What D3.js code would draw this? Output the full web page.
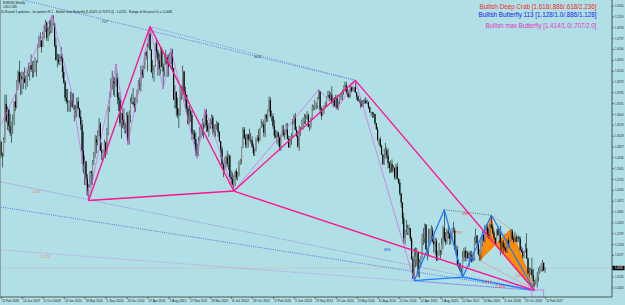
<!DOCTYPE html>
<html>
<head>
<meta charset="utf-8">
<script src="https://cdn.jsdelivr.net/npm/d3@7"></script>
<style>
body { margin: 0; background: #b0e0e6; }
svg { display: block; font-family: "Liberation Sans", Arial, sans-serif; }
</style>
</head>
<body>
<svg id="chart" width="625" height="305"></svg>
<script>
// EURUSD weekly, prices in 1/10000 (pips), week 0 = 22 Feb 2009
const firstOpen = 12910;
const weekHigh = [
  // 2009
  12930,12720,12990,13740,13740,13530,13500,13400,13270,13390,
  13620,13750,14000,14170,14340,14130,14150,14140,14220,14080,
  14180,14300,14260,14450,14330,14340,14400,14350,14630,14780,
  14840,14700,14850,14970,15060,15030,14940,15050,15060,15144,
  15140,14990,14750,14460,14460,
  // 2010
  14450,14580,14450,14240,14000,13840,13840,13640,13790,13790,
  13740,13560,13560,13690,13700,13510,13470,13290,13090,12670,
  12530,12340,12160,12390,12400,12590,12730,13030,13020,13110,
  13330,13260,12900,12780,12950,12910,13160,13530,13790,14030,
  14160,14070,14050,14280,14120,13780,13780,13420,13500,13500,
  13250,13430,
  // 2011
  13440,13460,13690,13760,13860,13690,13700,13830,14000,14040,
  14250,14250,14250,14490,14520,14650,14880,14940,14540,14350,
  14260,14650,14700,14540,14460,14580,14580,14290,14450,14530,
  14450,14450,14480,14550,14550,14210,13910,13800,13690,13500,
  13870,13900,14250,14160,13880,13740,13550,13550,13490,13450,
  13120,13120,
  // 2012
  13080,12880,13000,13170,13230,13320,13250,13490,13480,13290,
  13240,13320,13390,13380,13210,13220,13280,13260,13100,12920,
  12830,12540,12620,12670,12750,12690,12690,12400,12370,12320,
  12400,12440,12380,12580,12610,12820,13170,13170,13040,13050,
  13040,13140,13070,13010,12880,12790,12990,13030,13130,13150,
  13310,13260,13300,
  // 2013
  13400,13400,13480,13710,13690,13460,13410,13300,13120,13110,
  13050,13020,13040,13200,13210,13130,13240,13240,13020,13010,
  13060,13310,13390,13420,13180,13090,13200,13170,13300,13340,
  13400,13390,13450,13410,13220,13340,13570,13550,13650,13600,
  13700,13830,13810,13530,13500,13550,13620,13710,13810,13810,
  13780,13890,
  // 2014
  13680,13700,13740,13740,13620,13720,13770,13830,13910,13970,
  13970,13870,13820,13900,13900,13880,13880,13993,13780,13730,
  13660,13680,13620,13650,13670,13700,13650,13620,13530,13440,
  13440,13430,13400,13240,13170,12950,13000,12860,12690,12790,
  12890,12810,12790,12560,12580,12600,12500,12460,12520,12540,
  12260,12250,
  // 2015
  12010,11840,11660,11360,11530,11450,11450,11390,11240,10890,
  11040,11050,11040,10970,10840,10890,11290,11390,11470,11460,
  11030,11380,11380,11440,11410,11280,11220,11210,10990,11130,
  11010,11210,11430,11714,11320,11370,11460,11300,11290,11390,
  11500,11400,11090,11070,10830,10770,10690,10980,11040,11060,
  10990,10990,
  // 2016
  10970,10990,10990,10960,11240,11380,11260,11150,11020,11220,
  11340,11280,11440,11460,11460,11380,11460,11616,11450,11350,
  11220,11370,11420,11340,11430,11160,11180,11120,11060,11190,
  11230,11170,11370,11370,11240,11330,11280,11250,11260,11240,
  11060,11030,10990,11120,11300,10870,10690,10690,10870,10670,
  10480,10470,
  // 2017
  10620,10690,10720,10770,10830,10780,10700
];
const weekLow = [
  // 2009
  12620,12457,12650,12890,13250,13115,13100,13010,12890,13050,
  13200,13450,13500,13820,13930,13730,13750,13840,13950,13830,
  13880,14060,13990,14140,14040,14050,14130,14060,14300,14560,
  14580,14480,14580,14730,14850,14690,14680,14780,14820,14830,
  14960,14580,14340,14220,14270,
  // 2010
  14260,14320,14030,13930,13620,13580,13440,13440,13440,13520,
  13500,13270,13330,13340,13480,13320,13120,12520,12350,12150,
  12140,11960,11876,12100,12150,12150,12500,12630,12710,12840,
  13010,12750,12590,12580,12650,12620,12680,13030,13440,13690,
  13830,13730,13700,13880,13570,13450,13180,12970,13150,13140,
  13050,13070,
  // 2011
  12860,12860,13250,13580,13560,13430,13440,13590,13770,13820,
  13790,14030,14040,14190,14360,14150,14570,14520,14120,14030,
  13970,14240,14400,14070,14080,14100,14220,13840,14070,14270,
  14050,14060,14260,14280,14160,13650,13500,13360,13330,13150,
  13370,13650,13720,13620,13480,13420,13210,13220,13260,12950,
  12950,12860,
  // 2012
  12660,12620,12660,12900,12980,13020,12970,13150,13080,13080,
  13000,13140,13210,13040,12990,13000,13120,13000,12900,12640,
  12500,12290,12340,12440,12470,12410,12280,12160,12140,12042,
  12130,12240,12230,12300,12500,12520,12800,12960,12800,12800,
  12810,12920,12880,12800,12660,12660,12740,12920,12880,12920,
  13150,13170,13000,
  // 2013
  12990,13260,13260,13440,13340,13270,13140,12970,12970,12880,
  12840,12750,12750,13030,13000,12950,13080,12950,12800,12800,
  12860,13000,13230,13110,12990,12800,12750,13020,13130,13130,
  13220,13220,13300,13170,13100,13140,13300,13460,13470,13480,
  13500,13660,13410,13300,13360,13400,13520,13530,13690,13630,
  13640,13590,
  // 2014
  13520,13530,13510,13480,13470,13580,13640,13640,13740,13840,
  13750,13700,13670,13690,13780,13800,13790,13770,13650,13620,
  13590,13500,13520,13520,13580,13580,13570,13490,13420,13360,
  13330,13330,13200,13130,12920,12860,12810,12680,12500,12500,
  12620,12610,12440,12360,12360,12360,12390,12250,12240,12240,
  12160,11960,
  // 2015
  11750,11460,11120,11100,11270,11270,11260,11160,10840,10490,
  10462,10700,10720,10520,10520,10700,10850,11090,11130,11010,
  10820,10890,11120,11160,11130,10960,10920,10810,10810,10900,
  10850,10920,11020,11150,11090,11110,11210,11100,11100,11180,
  11310,11000,10900,10710,10680,10620,10560,10524,10800,10800,
  10850,10850,
  // 2016
  10710,10800,10780,10810,10820,11100,11070,10890,10820,10820,
  11060,11140,11140,11330,11230,11200,11220,11380,11290,11180,
  11100,11100,11260,11130,10910,10990,10950,11000,10950,10950,
  11050,11050,11160,11180,11120,11150,11150,11140,11140,10990,
  10950,10850,10860,10960,10850,10570,10520,10570,10500,10360,
  10350,10390,
  // 2017
  10340,10450,10580,10620,10620,10640,10600
];
const weekClose = [
  // 2009
  12670,12660,12950,13580,13280,13480,13190,13060,13260,13280,
  13620,13520,13990,14140,13960,14060,14010,14020,13950,13970,
  14110,14200,14260,14180,14190,14320,14330,14340,14580,14710,
  14690,14580,14780,14950,15010,14740,14860,14880,14930,15000,
  15000,14610,14350,14360,14320,
  // 2010
  14410,14380,14140,13960,13680,13630,13610,13630,13640,13760,
  13530,13470,13480,13620,13500,13350,13210,12750,12390,12570,
  12260,11970,12110,12390,12360,12560,12640,12950,12900,13050,
  13220,12750,12720,12750,12900,12710,13050,13490,13790,13970,
  13970,13950,13940,14030,13690,13650,13240,13410,13300,13200,
  13070,13380,
  // 2011
  12910,13380,13610,13610,13580,13510,13700,13750,13980,13900,
  14180,14090,14230,14490,14430,14580,14810,14530,14140,14150,
  14260,14640,14500,14340,14190,14530,14230,14150,14400,14400,
  14290,14240,14390,14500,14210,13650,13790,13500,13390,13380,
  13880,13890,14150,13800,13740,13500,13230,13450,13380,13040,
  13060,12960,
  // 2012
  12720,12680,12940,13130,13150,13200,13180,13450,13200,13110,
  13240,13270,13340,13090,13080,13200,13240,13080,12920,12780,
  12510,12420,12640,12640,12520,12660,12290,12250,12160,12300,
  12390,12290,12340,12510,12580,12810,13130,12970,12860,13040,
  12950,12950,12940,12830,12710,12750,12970,12990,12930,13160,
  13180,13220,13070,
  // 2013
  13380,13320,13460,13640,13360,13360,13190,13020,13000,13080,
  12990,12820,13000,13110,13040,13030,13120,12960,12820,12940,
  12990,13210,13350,13120,13010,12830,13070,13140,13280,13280,
  13340,13330,13380,13170,13180,13300,13520,13520,13550,13550,
  13690,13800,13480,13370,13500,13560,13590,13700,13740,13680,
  13740,13590,
  // 2014
  13670,13540,13680,13490,13630,13700,13740,13810,13910,13910,
  13790,13750,13700,13880,13810,13830,13870,13780,13710,13630,
  13630,13640,13540,13610,13640,13590,13610,13520,13430,13430,
  13410,13400,13240,13130,12950,12960,12830,12680,12520,12630,
  12760,12670,12530,12450,12520,12390,12450,12290,12470,12260,
  12190,12000,
  // 2015
  11840,11560,11210,11290,11320,11390,11380,11200,10840,10500,
  10820,10890,10970,10600,10800,10870,11200,11200,11450,11010,
  10990,11120,11260,11350,11160,11100,11160,10830,10980,10980,
  10970,11100,11390,11190,11150,11330,11300,11200,11210,11350,
  11350,11010,11000,10740,10770,10650,10590,10880,10990,10870,
  10960,10860,
  // 2016
  10920,10910,10800,10830,11160,11260,11130,10930,11000,11150,
  11270,11170,11390,11400,11280,11230,11450,11400,11310,11220,
  11110,11370,11260,11280,11120,11140,11050,11040,10980,11170,
  11090,11160,11330,11200,11150,11230,11150,11230,11200,11000,
  10970,10890,10980,11030,10850,10590,10590,10660,10560,10450,
  10450,10520,
  // 2017
  10530,10640,10700,10700,10780,10640,10685
];
const bidPrice = 1.0685;

const xTickLabels = ["22 Feb 2009","14 Jun 2009","4 Oct 2009","24 Jan 2010","16 May 2010","5 Sep 2010",
  "26 Dec 2010","17 Apr 2011","7 Aug 2011","27 Nov 2011","18 Mar 2012","8 Jul 2012","28 Oct 2012",
  "17 Feb 2013","9 Jun 2013","29 Sep 2013","19 Jan 2014","11 May 2014","31 Aug 2014","21 Dec 2014",
  "12 Apr 2015","2 Aug 2015","22 Nov 2015","13 Mar 2016","3 Jul 2016","23 Oct 2016","12 Feb 2017"];
const yTickValues = [1.5310,1.5119,1.4928,1.4737,1.4546,1.4355,1.4164,1.3973,1.3782,1.3591,1.3400,
  1.3209,1.3018,1.2827,1.2636,1.2445,1.2254,1.2063,1.1872,1.1681,1.1490,1.1299,1.1108,1.0917,
  1.0726,1.0535,1.0344];

// pattern points [week index, price]: X, A, B, C, D
const maxButterfly = [[67,1.1876],[114,1.4940],[178,1.2042],[271,1.3993],[408,1.0290]];
const butterfly113 = [[316,1.0462],[339,1.1714],[353,1.0524],[375,1.1616],[408,1.0290]];
const deepCrab = [[366,1.0820],[375,1.1616],[378,1.1100],[390,1.1370],[408,1.0300]];
const zigzag = [[0,1.3210],[39,1.5144],[54,1.3790],[67,1.1876],[88,1.4280],[97,1.2860],
  [114,1.4940],[124,1.3840],[130,1.4550],[150,1.2620],[156,1.3490],[178,1.2042],
  [243,1.3830],[257,1.3480],[271,1.3993],[316,1.0462]];

// dotted helper lines
const dottedLines = [
  {pts: [[17,1.5408],[271,1.3993]], color: "#4a5fd0"},
  {pts: [[114,1.4940],[271,1.3993]], color: "#8a6ad8"},
  {pts: [[0,1.2202],[408,1.0290]], color: "#a070d8"},
  {pts: [[0,1.1761],[408,1.0290]], color: "#3a5ae0"},
  {pts: [[0,1.1004],[408,1.0290]], color: "#c080e0"},
  {pts: [[339,1.1714],[375,1.1616]], color: "#505060"},
  {pts: [[316,1.0462],[408,1.0290]], color: "#3a5ae0"},
  {pts: [[366,1.0820],[408,1.0300]], color: "#ff5050"},
  {pts: [[375,1.1616],[390,1.1370]], color: "#ff5050"},
  {pts: [[366,1.0820],[378,1.1100]], color: "#ff5050"}
];

const ratioLabels = [
  {t: ".707", p: [76,1.5021], c: "#404050"},
  {t: ".618", p: [193,1.4404], c: "#404050"},
  {t: "1.00", p: [24,1.2026], c: "#ff7040"},
  {t: "1.272", p: [30,1.0881], c: "#ff7040"},
  {t: ".886", p: [352,1.1638], c: "#ff4040"},
  {t: ".707", p: [347,1.1303], c: "#ff4040"},
  {t: "1.0", p: [384,1.1280], c: "#ff4040"},
  {t: "1.618", p: [378,1.0352], c: "#ff4040"},
  {t: "2.236", p: [393,1.0546], c: "#ff4040"},
  {t: "1.414", p: [368,1.0440], c: "#ff4040"},
  {t: "1.128", p: [355,1.0838], c: "#2050ff"},
  {t: ".886", p: [292,1.1013], c: "#2050ff"}
];

const plotRight = 612, plotBottom = 297;
const weekStart = Date.UTC(2009, 1, 22);
const weekDate = i => new Date(weekStart + i * 7 * 864e5);

const x = d3.scaleUtc()
    .domain([weekDate(0), weekDate(416)])
    .range([1, 545]);
const y = d3.scaleLinear()
    .domain([1.5310, 1.0344])
    .range([5.6, 287.4]);

const svg = d3.select("#chart");

svg.append("rect").attr("width", 625).attr("height", 305).attr("fill", "#b0e0e6");

svg.append("clipPath").attr("id", "plotclip")
    .append("rect").attr("x", 0).attr("y", 0).attr("width", plotRight).attr("height", plotBottom);

const plot = svg.append("g").attr("clip-path", "url(#plotclip)");

const line = d3.line().x(d => x(weekDate(d[0]))).y(d => y(d[1]));

// bid line
plot.append("line")
    .attr("x1", 0).attr("x2", plotRight)
    .attr("y1", y(bidPrice)).attr("y2", y(bidPrice))
    .attr("stroke", "#c4c4c4").attr("stroke-width", 0.7);

// dotted lines
plot.selectAll(".dotted")
    .data(dottedLines).enter()
    .append("path")
    .attr("class", "dotted")
    .attr("d", d => line(d.pts))
    .attr("fill", "none")
    .attr("stroke", d => d.color)
    .attr("stroke-width", 0.8)
    .attr("stroke-dasharray", "1,1.2");

// deep crab filled triangles (behind candles)
const crabTris = [[deepCrab[0], deepCrab[1], deepCrab[2]], [deepCrab[2], deepCrab[3], deepCrab[4]]];
plot.selectAll(".crab")
    .data(crabTris).enter()
    .append("path")
    .attr("class", "crab")
    .attr("d", d => line(d) + "Z")
    .attr("fill", "#ff8c00")
    .attr("stroke", "#ff6a00")
    .attr("stroke-width", 0.8);

// candles
const bars = weekClose.map((c, i) => ({
    i: i,
    o: (i ? weekClose[i - 1] : firstOpen) / 1e4,
    h: weekHigh[i] / 1e4,
    l: weekLow[i] / 1e4,
    c: c / 1e4
}));

const candles = plot.append("g").attr("class", "candles");
candles.selectAll(".wick")
    .data(bars).enter()
    .append("rect")
    .attr("class", "wick")
    .attr("x", d => x(weekDate(d.i)) - 0.3)
    .attr("width", 0.6)
    .attr("y", d => y(d.h))
    .attr("height", d => Math.max(0.5, y(d.l) - y(d.h)))
    .attr("fill", "#111");
candles.selectAll(".body")
    .data(bars).enter()
    .append("rect")
    .attr("class", "body")
    .attr("x", d => x(weekDate(d.i)) - 0.6)
    .attr("width", 1.2)
    .attr("y", d => y(Math.max(d.o, d.c)))
    .attr("height", d => Math.max(0.6, Math.abs(y(d.o) - y(d.c))))
    .attr("fill", d => d.c >= d.o ? "#8c8c8c" : "#000");

// zigzag (thin violet)
plot.append("path")
    .attr("d", line(zigzag))
    .attr("fill", "none")
    .attr("stroke", "#d070e8")
    .attr("stroke-width", 0.8);

// pattern legs: XA, AB, BC, CD, XB, BD
function legs(p) {
    return [[p[0], p[1]], [p[1], p[2]], [p[2], p[3]], [p[3], p[4]], [p[0], p[2]], [p[2], p[4]]];
}

plot.selectAll(".bfly")
    .data(legs(butterfly113)).enter()
    .append("path")
    .attr("class", "bfly")
    .attr("d", d => line(d))
    .attr("stroke", "#1e7cff")
    .attr("stroke-width", 1.3)
    .attr("fill", "none");

plot.selectAll(".maxb")
    .data(legs(maxButterfly)).enter()
    .append("path")
    .attr("class", "maxb")
    .attr("d", d => line(d))
    .attr("stroke", "#ff1493")
    .attr("stroke-width", 1.4)
    .attr("fill", "none");

// D zone box
plot.append("rect")
    .attr("x", x(weekDate(406)))
    .attr("y", y(1.0299))
    .attr("width", x(weekDate(415)) - x(weekDate(406)))
    .attr("height", plotBottom - y(1.0299) + 2)
    .attr("fill", "none")
    .attr("stroke", "#d070e8")
    .attr("stroke-width", 0.8);

// ratio labels
plot.selectAll(".ratio")
    .data(ratioLabels).enter()
    .append("text")
    .attr("class", "ratio")
    .attr("x", d => x(weekDate(d.p[0])))
    .attr("y", d => y(d.p[1]))
    .attr("dy", "0.35em")
    .attr("font-size", 4)
    .attr("fill", d => d.c)
    .text(d => d.t);

// y axis
svg.append("line")
    .attr("x1", plotRight).attr("x2", plotRight)
    .attr("y1", 0).attr("y2", plotBottom)
    .attr("stroke", "#333").attr("stroke-width", 0.8);
const yAxis = svg.append("g")
    .attr("transform", `translate(${plotRight},0)`)
    .call(d3.axisRight(y).tickValues(yTickValues).tickSize(2).tickPadding(1).tickFormat(d3.format(".4f")));
yAxis.select(".domain").remove();
yAxis.selectAll("line").attr("stroke", "#333").attr("stroke-width", 0.6);
yAxis.selectAll("text")
    .attr("font-size", 3.2)
    .attr("fill", "#222")
    .attr("font-family", "Liberation Sans, Arial, sans-serif")
    .attr("textLength", 8.5)
    .attr("lengthAdjust", "spacingAndGlyphs");
// the price box hides the tick label it covers, as in the terminal
yAxis.selectAll(".tick")
    .filter(d => Math.abs(y(d) - y(bidPrice)) < 4.5)
    .select("text").remove();

// bid price box
svg.append("rect")
    .attr("x", plotRight + 0.5).attr("y", y(bidPrice) - 2.2)
    .attr("width", 12).attr("height", 4.4)
    .attr("fill", "#000");
svg.append("text")
    .attr("x", plotRight + 2.5).attr("y", y(bidPrice))
    .attr("dy", "0.35em")
    .attr("font-size", 3.2).attr("fill", "#fff")
    .attr("textLength", 8.5).attr("lengthAdjust", "spacingAndGlyphs")
    .text(d3.format(".4f")(bidPrice));

// x axis
const parseTick = d3.utcParse("%d %b %Y");
svg.append("line")
    .attr("x1", 0).attr("x2", plotRight)
    .attr("y1", plotBottom).attr("y2", plotBottom)
    .attr("stroke", "#333").attr("stroke-width", 0.8);
const xAxis = svg.append("g")
    .attr("transform", `translate(0,${plotBottom})`)
    .call(d3.axisBottom(x).tickValues(xTickLabels.map(parseTick)).tickSize(2).tickPadding(1)
        .tickFormat(d3.utcFormat("%-d %b %Y")));
xAxis.select(".domain").remove();
xAxis.selectAll("line").attr("stroke", "#333").attr("stroke-width", 0.6);
xAxis.selectAll("text")
    .attr("text-anchor", "start")
    .attr("x", 0.5)
    .attr("y", 2.2)
    .attr("font-size", 3.8)
    .attr("fill", "#222")
    .attr("font-family", "Liberation Sans, Arial, sans-serif")
    .attr("textLength", 17)
    .attr("lengthAdjust", "spacingAndGlyphs");

// left frame
svg.append("line").attr("x1", 0.5).attr("x2", 0.5).attr("y1", 0).attr("y2", plotBottom)
    .attr("stroke", "#777").attr("stroke-width", 0.6);

// top-left info text
const info = [
  {t: "EURUSD,Weekly", x: 3, y: 3.8, w: 22},
  {t: "1.0651 1.0685", x: 3, y: 7.6, w: 14},
  {t: "Dr.Round 1 patterns  -  for pattern N 1  -  Bullish max Butterfly [1.414/1.0/.707/2.0]  -  1.0222  -  Range of the price D  =  1.0446", x: 1, y: 12.6, w: 171}
];
svg.selectAll(".info")
    .data(info).enter()
    .append("text")
    .attr("class", "info")
    .attr("x", d => d.x).attr("y", d => d.y)
    .attr("font-size", 3.6).attr("fill", "#111")
    .attr("textLength", d => d.w).attr("lengthAdjust", "spacingAndGlyphs")
    .text(d => d.t);

// legend
const legend = [
  {t: "Bullish Deep Crab [1.618/.886/.618/2.236]", c: "#f02828", y: 8.8, w: 117},
  {t: "Bullish Butterfly 113 [1.128/1.0/.886/1.128]", c: "#1a1ae8", y: 16.6, w: 118},
  {t: "Bullish max Butterfly [1.414/1.0/.707/2.0]", c: "#e030c8", y: 28.3, w: 111}
];
svg.selectAll(".legend")
    .data(legend).enter()
    .append("text")
    .attr("class", "legend")
    .attr("x", 596.5).attr("y", d => d.y)
    .attr("text-anchor", "end")
    .attr("font-size", 7)
    .attr("fill", d => d.c)
    .attr("textLength", d => d.w).attr("lengthAdjust", "spacingAndGlyphs")
    .text(d => d.t);
</script>
</body>
</html>
